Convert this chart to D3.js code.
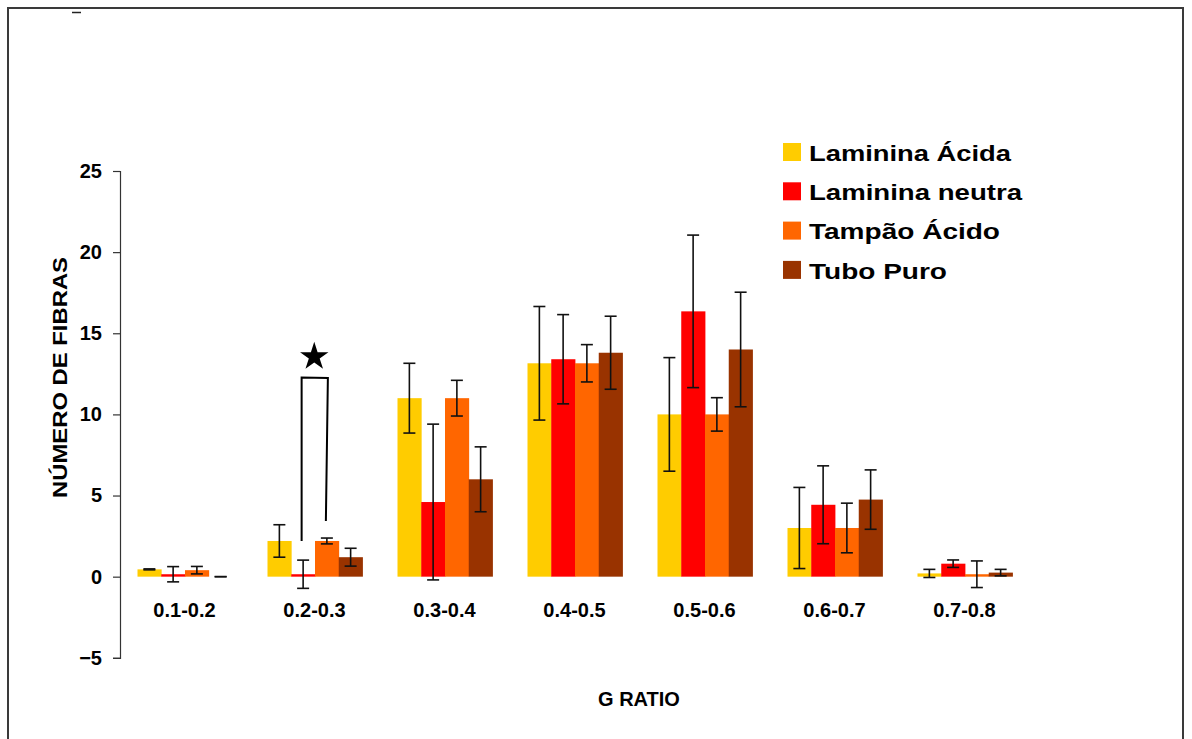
<!DOCTYPE html>
<html>
<head>
<meta charset="utf-8">
<script src="https://cdn.jsdelivr.net/npm/d3@7/dist/d3.min.js"></script>
<style>
  html, body { margin: 0; padding: 0; background: #fff; }
  svg { display: block; font-family: "Liberation Sans", Arial, sans-serif; }
</style>
</head>
<body>
<svg id="chart" width="1192" height="739"></svg>
<script>
// G ratio classes
const categories = ["0.1-0.2", "0.2-0.3", "0.3-0.4", "0.4-0.5", "0.5-0.6", "0.6-0.7", "0.7-0.8"];
const seriesNames = ["Laminina Ácida", "Laminina neutra", "Tampão Ácido", "Tubo Puro"];

// mean fibre counts per class
const lamininaAcida      = [0.45, 2.2, 11.0, 13.15, 10.0, 3.0, 0.2];
const lamininaNeutra     = [0.15, 0.15, 4.6, 13.4, 16.35, 4.43, 0.8];
const tampaoAcido        = [0.4, 2.2, 11.0, 13.15, 10.0, 3.0, 0.15];
const tuboPuro           = [0.0, 1.2, 6.0, 13.8, 14.0, 4.75, 0.25];

// error (± half-range) per class
const lamininaAcidaErr   = [0.03, 1.0, 2.15, 3.5, 3.5, 2.5, 0.25];
const lamininaNeutraErr  = [0.47, 0.87, 4.8, 2.75, 4.7, 2.4, 0.23];
const tampaoAcidoErr     = [0.23, 0.18, 1.1, 1.15, 1.03, 1.53, 0.82];
const tuboPuroErr        = [0.0, 0.55, 2.0, 2.25, 3.53, 1.83, 0.2];

const yTicks = [-5, 0, 5, 10, 15, 20, 25];

// significance bracket between Laminina neutra and Tampão Ácido in 0.2-0.3
const bracket = { category: "0.2-0.3", from: "Laminina neutra", to: "Tampão Ácido",
                  fromY: 2.2, toY: 3.43, top: 12.28, starY: 13.55 };

const colors = ["#FFCC00", "#FF0000", "#FF6600", "#993300"];
const values = [lamininaAcida, lamininaNeutra, tampaoAcido, tuboPuro];
const errors = [lamininaAcidaErr, lamininaNeutraErr, tampaoAcidoErr, tuboPuroErr];

const rows = [];
categories.forEach((c, i) => {
  seriesNames.forEach((s, j) => {
    rows.push({ category: c, series: s, value: values[j][i], err: errors[j][i], color: colors[j] });
  });
});

const svg = d3.select("#chart");

// outer frame
svg.append("path")
  .attr("d", "M8,745 L8,8 L1183,8 L1183,745")
  .attr("fill", "none").attr("stroke", "#3a3a3a").attr("stroke-width", 2);
svg.append("line")
  .attr("x1", 72).attr("x2", 81).attr("y1", 12.5).attr("y2", 12.5)
  .attr("stroke", "#222").attr("stroke-width", 1.5);

const x0 = d3.scaleBand().domain(categories).range([120, 1030]).padding(0);
const x1 = d3.scaleBand().domain(seriesNames).range([17.5, 112.5]).padding(0);
const y = d3.scaleLinear().domain([-5, 25]).range([657.8, 171]);

// y axis
const yAxis = d3.axisLeft(y).tickValues(yTicks).tickSize(7).tickPadding(11).tickFormat(d3.format("d"));
const gy = svg.append("g").attr("transform", "translate(120,0)").call(yAxis);
gy.select(".domain").attr("stroke", "#333").attr("stroke-width", 1.2);
gy.selectAll(".tick line").attr("stroke", "#333").attr("stroke-width", 1.2);
gy.selectAll(".tick text")
  .attr("fill", "#000").attr("font-size", 20).attr("font-weight", "bold")
  .attr("font-family", "'Liberation Sans', Arial, sans-serif");

// bars
const groups = svg.append("g").selectAll("g")
  .data(categories).join("g")
  .attr("transform", d => `translate(${x0(d)},0)`);

groups.selectAll("rect")
  .data(c => rows.filter(r => r.category === c && r.value > 0))
  .join("rect")
  .attr("x", d => x1(d.series))
  .attr("width", x1.bandwidth() + 0.4)
  .attr("y", d => Math.min(y(d.value), y(0)))
  .attr("height", d => Math.max(Math.abs(y(0) - y(d.value)), 1))
  .attr("fill", d => d.color);

// error bars
const capHalf = 6;
const eb = groups.selectAll("g.err")
  .data(c => rows.filter(r => r.category === c))
  .join("g").attr("class", "err")
  .attr("stroke", "#111").attr("stroke-width", 1.6);
eb.append("line")
  .attr("x1", d => x1(d.series) + x1.bandwidth() / 2)
  .attr("x2", d => x1(d.series) + x1.bandwidth() / 2)
  .attr("y1", d => y(d.value + d.err))
  .attr("y2", d => y(d.value - d.err));
eb.append("line")
  .attr("x1", d => x1(d.series) + x1.bandwidth() / 2 - capHalf)
  .attr("x2", d => x1(d.series) + x1.bandwidth() / 2 + capHalf)
  .attr("y1", d => y(d.value + d.err))
  .attr("y2", d => y(d.value + d.err));
eb.append("line")
  .attr("x1", d => x1(d.series) + x1.bandwidth() / 2 - capHalf)
  .attr("x2", d => x1(d.series) + x1.bandwidth() / 2 + capHalf)
  .attr("y1", d => y(d.value - d.err))
  .attr("y2", d => y(d.value - d.err));

// category labels
svg.append("g").selectAll("text")
  .data(categories).join("text")
  .attr("x", d => x0(d) + x0.bandwidth() / 2 - 0.5)
  .attr("y", 617)
  .attr("text-anchor", "middle")
  .attr("font-size", 20).attr("font-weight", "bold")
  .text(d => d);

// significance bracket and star
const bx1 = x0(bracket.category) + x1(bracket.from) + x1.bandwidth() / 2 - 1.5;
const bx2 = x0(bracket.category) + x1(bracket.to) + x1.bandwidth() / 2;
svg.append("path")
  .attr("d", `M${bx1},${y(bracket.fromY)} L${bx1},${y(bracket.top)} L${bx2 + 1},${y(bracket.top) + 0.5} L${bx2 - 1},${y(bracket.toY)}`)
  .attr("fill", "none").attr("stroke", "#000").attr("stroke-width", 2);
svg.append("path")
  .attr("d", d3.symbol(d3.symbolStar, 250)())
  .attr("transform", `translate(${(bx1 + bx2) / 2},${y(bracket.starY)})`)
  .attr("fill", "#000");

// axis titles
svg.append("text")
  .attr("transform", "translate(67,377.5) rotate(-90)")
  .attr("text-anchor", "middle")
  .attr("font-size", 20).attr("font-weight", "bold")
  .attr("textLength", 241).attr("lengthAdjust", "spacingAndGlyphs")
  .text("NÚMERO DE FIBRAS");

svg.append("text")
  .attr("x", 639).attr("y", 706)
  .attr("text-anchor", "middle")
  .attr("font-size", 20).attr("font-weight", "bold")
  .text("G RATIO");

// legend
const legendWidths = [202, 213, 191, 138];
const lg = svg.append("g").selectAll("g")
  .data(seriesNames).join("g")
  .attr("transform", (d, i) => `translate(783,${143 + i * 39.3})`);
lg.append("rect")
  .attr("width", 18).attr("height", 18)
  .attr("fill", (d, i) => colors[i]);
lg.append("text")
  .attr("x", 26).attr("y", 17.8)
  .attr("font-size", 22).attr("font-weight", "bold")
  .attr("textLength", (d, i) => legendWidths[i]).attr("lengthAdjust", "spacingAndGlyphs")
  .text(d => d);
</script>
</body>
</html>
